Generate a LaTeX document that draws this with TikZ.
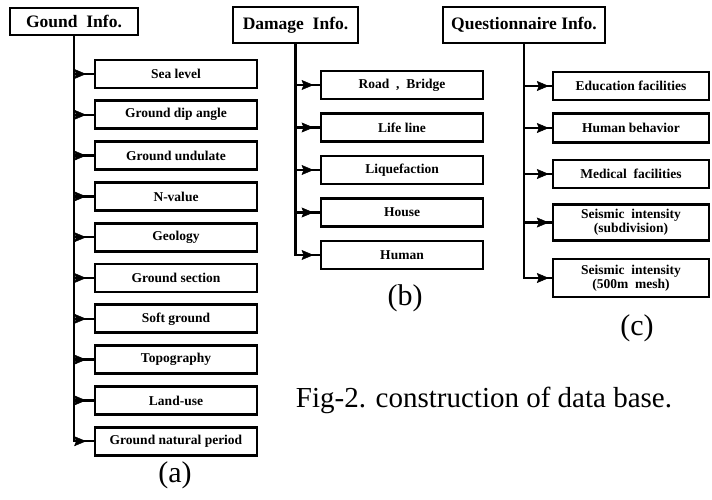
\documentclass[tikz,border=0pt]{standalone}
\usepackage{fontspec}
\setmainfont{Liberation Serif}
\usetikzlibrary{arrows.meta,decorations.markings}

\tikzset{
  title/.style={draw, line width=2.8pt, inner sep=0pt, font=\bfseries\fontsize{17.5}{19}\selectfont},
  item/.style={draw, line width=2.8pt, inner sep=0pt, align=center,
               font=\bfseries\fontsize{13.5}{14}\selectfont},
  trunk/.style={line width=2.3pt},
  branch/.style={line width=2.3pt,
     postaction={decorate},
     decoration={markings, mark=at position #1 with {\arrow[line width=0.5pt]{Stealth[length=12pt,width=10pt,inset=2pt]}}}},
  branch/.default=0.7,
  label/.style={font=\fontsize{30}{32}\selectfont},
  caption/.style={font=\fontsize{29}{32}\selectfont}
}

\begin{document}
\begin{tikzpicture}[x=1pt,y=-1pt]
\useasboundingbox (0,0) rectangle (712,499);

% ---- (a) ground information ----
\node[title, minimum width=128pt, minimum height=27pt] (ga) at (74,21.5) {Gound\ \ Info.};
\foreach \n/\t [count=\i from 0] in {a1/Sea level, a2/Ground dip angle, a3/Ground undulate,
    a4/N-value, a5/Geology, a6/Ground section, a7/Soft ground, a8/Topography,
    a9/Land-use, a10/Ground natural period}
  \node[item, minimum width=162pt, minimum height=28pt] (\n) at (176,{74+40.8*\i}) {\t};
\draw[trunk] (ga.south) |- (a10.west);
\foreach \n in {a1,a2,a3,a4,a5,a6,a7,a8,a9,a10}
  \draw[branch=0.62] (ga.south |- \n.west) -- (\n.west);
\node[label] (la) at (175,475) {(a)};

% ---- (b) damage information ----
\node[title, minimum width=125pt, minimum height=36pt] (da) at (295.5,25) {Damage\ \ Info.};
\foreach \n/\t [count=\i from 0] in {b1/{Road\ \ ,\ \ Bridge}, b2/Life line, b3/Liquefaction,
    b4/House, b5/Human}
  \node[item, minimum width=162pt, minimum height=28pt] (\n) at (402,{85+42.5*\i}) {\t};
\draw[trunk] (da.south) |- (b5.west);
\foreach \n in {b1,b2,b3,b4,b5}
  \draw[branch=0.75] (da.south |- \n.west) -- (\n.west);
\node[label] (lb) at (405,298) {(b)};

% ---- (c) questionnaire information ----
\node[title, minimum width=162pt, minimum height=36pt] (qa) at (524,25) {Questionnaire Info.};
\node[item, minimum width=156pt, minimum height=28pt] (c1) at (631,86) {Education facilities};
\node[item, minimum width=156pt, minimum height=29pt] (c2) at (631,128) {Human behavior};
\node[item, minimum width=156pt, minimum height=28pt] (c3) at (631,174) {Medical\ \ facilities};
\node[item, minimum width=156pt, minimum height=36pt] (c4) at (631,222.5) {Seismic\ \ intensity\\(subdivision)};
\node[item, minimum width=156pt, minimum height=38pt] (c5) at (631,278) {Seismic\ \ intensity\\(500m\ \ mesh)};
\draw[trunk] (qa.south) |- (c5.west);
\foreach \n in {c1,c2,c3,c4,c5}
  \draw[branch=0.9] (qa.south |- \n.west) -- (\n.west);
\node[label] (lc) at (637,328) {(c)};

% ---- caption ----
\node[caption] (cap) at (484,400) {Fig-2. construction of data base.};
\end{tikzpicture}
\end{document}
